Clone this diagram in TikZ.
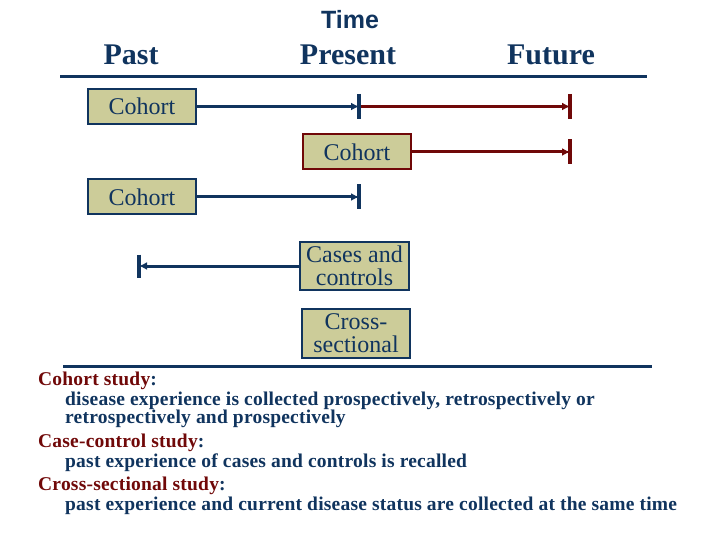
\documentclass[tikz,border=0pt]{standalone}
\usepackage{fontspec}
\setmainfont{Liberation Serif}
\newfontfamily\timefont{Liberation Sans}
\newfontfamily\boxfont{Liberation Serif}
\newfontfamily\spacedfont[LetterSpace=1.1]{Liberation Serif}
\usetikzlibrary{arrows.meta}
\definecolor{navy}{RGB}{16,52,94}
\definecolor{dred}{RGB}{112,8,8}
\definecolor{khaki}{RGB}{204,204,153}
\begin{document}
\begin{tikzpicture}[x=1pt,y=-1pt,
  box/.style={draw=navy, line width=2pt, fill=khaki, text=navy,
    font=\boxfont\fontsize{24}{23}\selectfont, inner sep=0pt,
    minimum width=108pt, minimum height=35pt, align=center},
  redbox/.style={box, draw=dred},
  head/.style={text=navy, font=\fontsize{30}{30}\selectfont\bfseries, anchor=base},
  conn/.style={draw=navy, line width=3pt, -{Latex[length=8pt,width=8pt]}},
  redconn/.style={conn, draw=dred},
  bar/.style={draw=navy, line width=3.5pt},
  redbar/.style={bar, draw=dred},
  axis/.style={draw=navy, line width=3pt},
  ttl/.style={text=dred, anchor=base west, inner sep=0pt, font=\spacedfont\fontsize{19.5}{19.5}\selectfont\bfseries},
  body/.style={text=navy, anchor=base west, inner sep=0pt, font=\spacedfont\fontsize{19.5}{19.5}\selectfont\bfseries}]
\useasboundingbox (0,0) rectangle (720,540);
% header
\node[text=navy, font=\timefont\fontsize{25}{25}\selectfont\bfseries, anchor=base] (time) at (350,29) {Time};
\node[head] (past) at (131,65) {Past};
\node[head] (present) at (348,65) {Present};
\node[head] (future) at (551,65) {Future};
\coordinate (t1) at (60,77);
\coordinate (t2) at (647,77);
\draw[axis] (t1) -- (t2);
% boxes
\node[box] (c1) at (142,106.5) {Cohort};
\node[redbox] (c2) at (357,152) {Cohort};
\node[box] (c3) at (142,197) {Cohort};
\node[box, minimum width=109pt, minimum height=48pt] (cc) at (354.5,266) {Cases and\\controls};
\node[box, minimum height=49pt] (cs) at (356,333.5) {Cross-\\sectional};
% bar positions
\coordinate (b1) at (359,106.5);
\coordinate (f1) at (570,106.5);
\coordinate (f2) at (570,152);
\coordinate (b3) at (359,197);
\coordinate (p4) at (139,266);
% connectors
\draw[conn] (c1.east) -- (b1);
\draw[redconn] (b1) -- (f1);
\draw[redconn] (c2.east) -- (f2);
\draw[conn] (c3.east) -- (b3);
\draw[conn] (cc.west) -- (p4);
% bars
\draw[bar] (b1) ++(0,-12.5) -- ++(0,25);
\draw[redbar] (f1) ++(0,-12.5) -- ++(0,25);
\draw[redbar] (f2) ++(0,-12.5) -- ++(0,25);
\draw[bar] (b3) ++(0,-12.5) -- ++(0,25);
\draw[bar] (p4) ++(0,-11.5) -- ++(0,23);
% bottom axis
\coordinate (u1) at (63,366);
\coordinate (u2) at (652,366);
\draw[axis] (u1) -- (u2);
% text
\node[ttl] (s1) at (38,385) {Cohort study\textcolor{navy}{:}};
\node[body] (d1) at (65,405) {disease experience is collected prospectively, retrospectively or};
\node[body] (d1b) at (65,423) {retrospectively and prospectively};
\node[ttl] (s2) at (38,447) {Case-control study\textcolor{navy}{:}};
\node[body] (d2) at (65,467) {past experience of cases and controls is recalled};
\node[ttl] (s3) at (38,490) {Cross-sectional study\textcolor{navy}{:}};
\node[body] (d3) at (65,510) {past experience and current disease status are collected at the same time};
\end{tikzpicture}
\end{document}
